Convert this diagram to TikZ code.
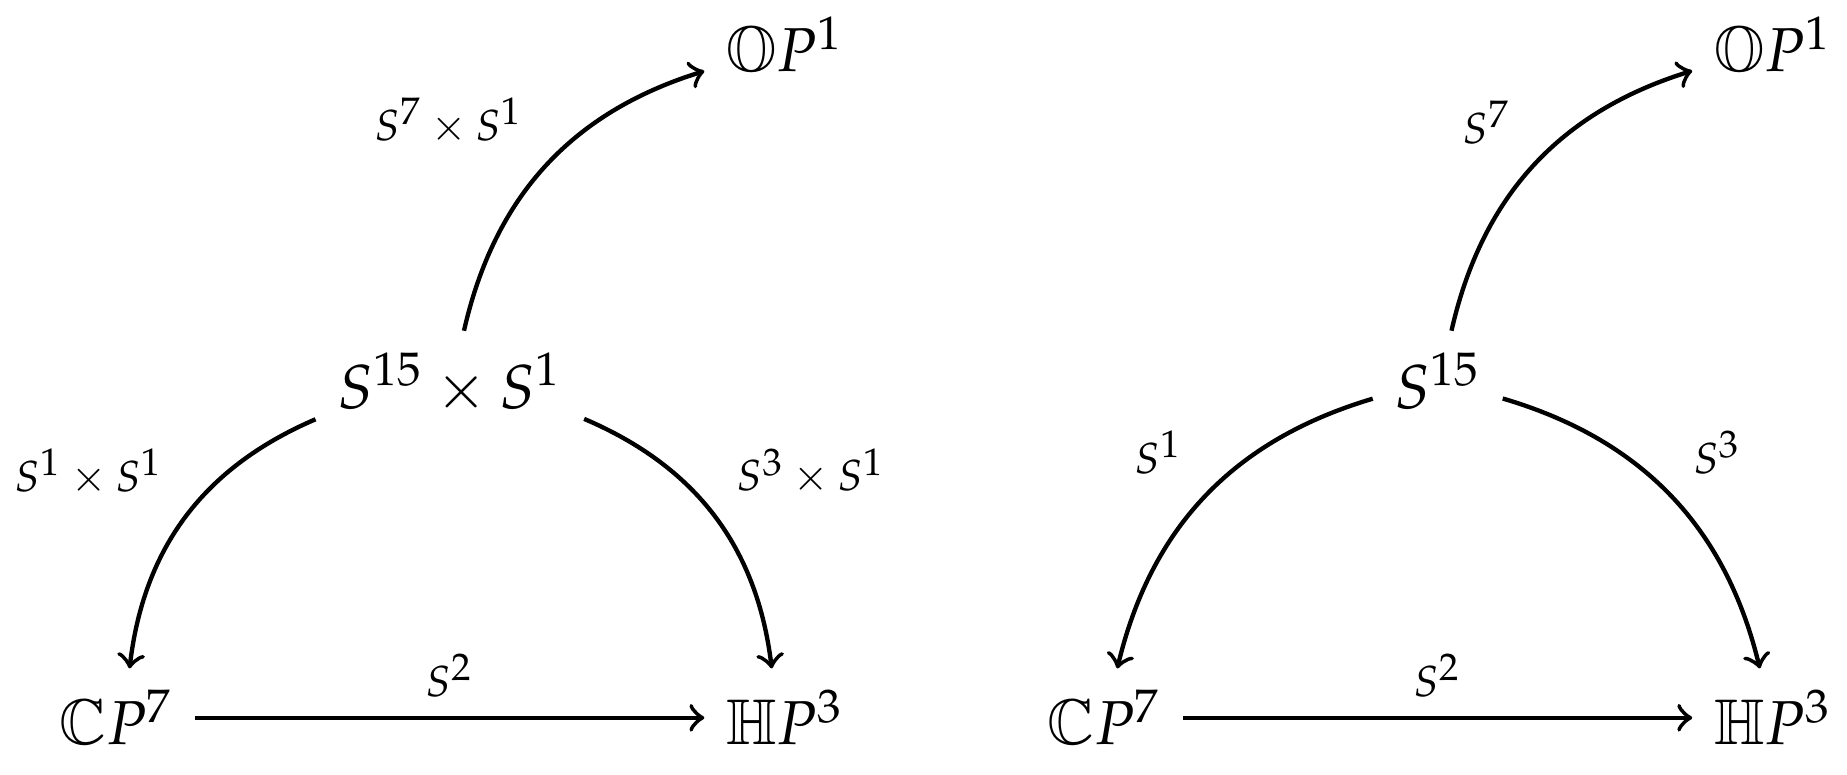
\documentclass[tikz,border=0pt]{standalone}
\usepackage{mathpazo}
\usepackage{amssymb}
\DeclareMathAlphabet{\msbb}{U}{msb}{m}{n}
\DeclareMathSizes{7}{7}{6.2}{5}
\usetikzlibrary{positioning}
\tikzset{
obj/.style={anchor=base},
map/.style={->,
  line width=0.7pt},
lbl/.style={font=\scriptsize},
}
\begin{document}
\begin{tikzpicture}
  \useasboundingbox (0,0) rectangle (10.47,4.393);

  % Left diagram
  \node [obj] (cpl) at (0.66,0.17) {$\msbb{C}P^7$};
  \node [obj] (hpl) at (4.45,0.17) {$\msbb{H}P^3$};
  \node [obj] (sl) at (2.55,2.08) {$S^{15}\times S^1$};
  \node [obj] (opl) at (4.45,3.985) {$\msbb{O}P^1$};

  \draw [map] (sl) to [bend left=30] node [lbl, midway, above left=-0.2pt and 0pt] {$S^7\times S^1$} (opl);
  \draw [map] (sl) to [bend right=30] node [lbl, midway, above left=-0.2pt and 0pt] {$S^1\times S^1$} (cpl);
  \draw [map] (sl) to [bend left=30] node [lbl, midway, above right=-0.2pt and 0pt] {$S^3\times S^1$} (hpl);
  \draw [map] (cpl) -- node [lbl, midway, above=-0.4pt] {$S^2$} (hpl);

  % Right diagram
  \begin{scope}[xshift=5.6cm]
  \node [obj] (cpr) at (0.66,0.17) {$\msbb{C}P^7$};
  \node [obj] (hpr) at (4.45,0.17) {$\msbb{H}P^3$};
  \node [obj] (sr) at (2.55,2.08) {$S^{15}$};
  \node [obj] (opr) at (4.45,3.985) {$\msbb{O}P^1$};

  \draw [map] (sr) to [bend left=30] node [lbl, midway, above left=-0.2pt and 0pt] {$S^7$} (opr);
  \draw [map] (sr) to [bend right=30] node [lbl, midway, above left=-0.2pt and 0pt] {$S^1$} (cpr);
  \draw [map] (sr) to [bend left=30] node [lbl, midway, above right=-0.2pt and 0pt] {$S^3$} (hpr);
  \draw [map] (cpr) -- node [lbl, midway, above=-0.4pt] {$S^2$} (hpr);
  \end{scope}
\end{tikzpicture}
\end{document}
